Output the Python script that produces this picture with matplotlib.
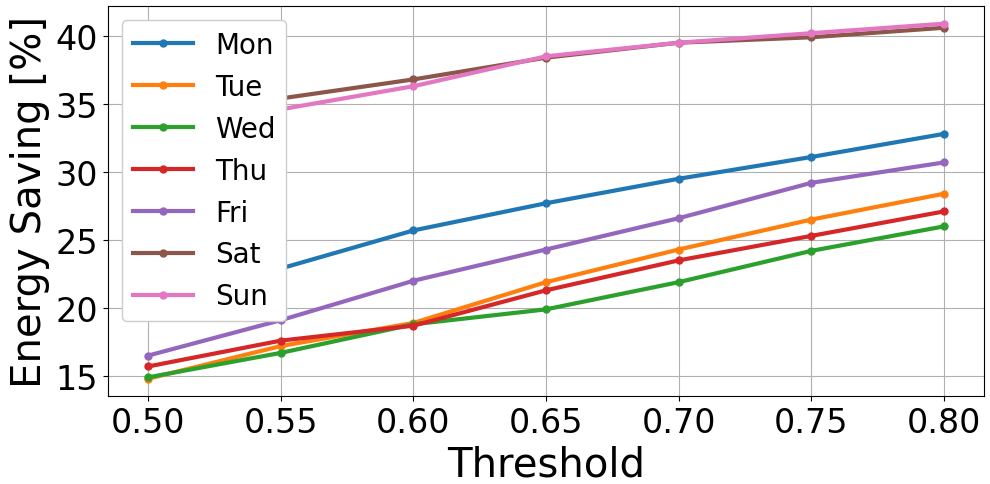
import matplotlib.pyplot as plt
import numpy as np

thresholds = [0.50, 0.55, 0.60, 0.65, 0.70, 0.75, 0.80]
days = ['Mon', 'Tue', 'Wed', 'Thu', 'Fri', 'Sat', 'Sun']
mon = [20.0, 22.9, 25.7, 27.7, 29.5, 31.1, 32.8]
tue = [14.8, 17.2, 18.9, 21.9, 24.3, 26.5, 28.4]
wed = [14.9, 16.7, 18.8, 19.9, 21.9, 24.2, 26.0]
thu = [15.7, 17.6, 18.7, 21.3, 23.5, 25.3, 27.1]
fri = [16.5, 19.1, 22.0, 24.3, 26.6, 29.2, 30.7]
sat = [33.5, 35.4, 36.8, 38.4, 39.5, 39.9, 40.6]
sun = [32.5, 34.6, 36.3, 38.5, 39.5, 40.2, 40.9]
series = [mon, tue, wed, thu, fri, sat, sun]

fig = plt.figure(figsize=(9.9, 4.85), dpi=100)
ax = fig.add_subplot(111)
for day, vals in zip(days, series):
    ax.plot(thresholds, vals, marker='o', markersize=5, linewidth=3, label=day)

ax.set_xticks(thresholds)
ax.set_xticklabels(['%.2f' % t for t in thresholds])
ax.set_yticks([15, 20, 25, 30, 35, 40])
ax.set_ylim(13.53, 42.2)
ax.set_xlim(0.4849, 0.8151)
ax.tick_params(labelsize=24)
ax.set_xlabel('Threshold', fontsize=29)
ax.set_ylabel('Energy Saving [%]', fontsize=29)
ax.grid(True)
ax.legend(fontsize=20, loc='upper left', framealpha=1, handlelength=2.15)

plt.subplots_adjust(left=0.109, right=0.994, top=0.9856, bottom=0.1814)
plt.savefig('out.png', dpi=100)
